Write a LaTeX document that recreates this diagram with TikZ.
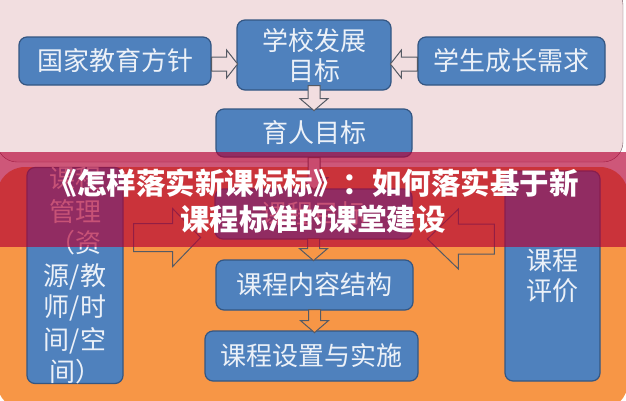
\documentclass[tikz,border=0pt]{standalone}
\usepackage{fontspec}
\newfontfamily\cjk{Noto Sans CJK SC}
\usetikzlibrary{positioning,calc}

\definecolor{pinkbg}{RGB}{242,222,224}
\definecolor{pinkline}{RGB}{120,88,100}
\definecolor{orangebg}{RGB}{247,150,70}
\definecolor{boxblue}{RGB}{79,129,189}
\definecolor{boxline}{RGB}{52,86,130}
\definecolor{boxtext}{RGB}{236,241,248}
\definecolor{arrgray}{RGB}{85,90,100}
\definecolor{bannerred}{RGB}{180,0,52}

\tikzset{
	box/.style={draw=boxline, line width=1.2pt, fill=boxblue, rounded corners=8pt, text=boxtext, align=center, inner sep=0pt, font=\cjk\fontsize{26}{30}\selectfont},
	arrline/.style={draw=arrgray, line width=1pt},
	pics/hollowarr/.style n args={5}{code={
		\draw[arrline, fill=#5] (0,-#2) -- (#1-#4,-#2) -- (#1-#4,-#3) -- (#1,0) -- (#1-#4,#3) -- (#1-#4,#2) -- (0,#2) -- cycle;
	}},
}

\begin{document}
\begin{tikzpicture}[x=1pt,y=-1pt]
				\useasboundingbox (0,0) rectangle (626,400);
				%Panels
				\draw[pinkline, fill=pinkbg, rounded corners=20pt] (-3,-15) rectangle (623,162);
				\fill[orangebg, rounded corners=28pt] (-3,167) rectangle (628,410);

				%Nodes
				\node[box, minimum width=192pt, minimum height=48pt] (gj) at (115,61) {国家教育方针};
				\node[box, minimum width=154pt, minimum height=70pt] (xx) at (314,55) {学校发展\\目标};
				\node[box, minimum width=187pt, minimum height=48pt] (xs) at (511.5,61) {学生成长需求};
				\node[box, minimum width=196pt, minimum height=48pt] (yr) at (314,133) {育人目标};
				\node[box, minimum width=197pt, minimum height=50pt] (kcmb) at (313.5,214) {课程目标};
				\node[box, minimum width=197pt, minimum height=50pt] (nr) at (314.5,285) {课程内容结构};
				\node[box, minimum width=213pt, minimum height=50pt] (sz) at (311.5,356) {课程设置与实施};
				\node[box, minimum width=96pt, minimum height=214pt, font=\cjk\fontsize{26}{32}\selectfont] (gl) at (75,275.5) {课程\\管理\\（资\\源/教\\师/时\\间/空\\间）};
				\node[box, minimum width=95pt, minimum height=210pt] (pj) at (552.5,276) {课程\\评价};

				%Arrows
				\pic at ($(gj.east)+(0,3)$) {hollowarr={26}{7}{14}{11}{pinkbg}};
				\pic[rotate=180] at ($(xs.west)+(0,3)$) {hollowarr={27}{7}{14}{11}{pinkbg}};
				\pic[rotate=-90] at ($(xx.south)+(0,-5)$) {hollowarr={25}{6}{14}{12}{pinkbg}};
				\pic[rotate=-90] at (yr.south) {hollowarr={32}{6}{14}{12}{pinkbg}};
				\pic[rotate=-90] at ($(kcmb.south)+(0,-1)$) {hollowarr={22}{6}{14}{12}{orangebg}};
				\pic[rotate=-90] at ($(nr.south)+(0,-1)$) {hollowarr={23}{6}{14}{12}{orangebg}};
				\pic at ($(gl.east)+(10,-38)$) {hollowarr={67}{14}{29}{28}{orangebg}};
				\pic[rotate=180] at ($(pj.west)+(-10,-37)$) {hollowarr={67}{15}{30}{31}{orangebg}};

				%Banner
				\fill[bannerred, opacity=0.66] (0,152) rectangle (626,247);
				\node[text=white, align=center, font=\cjk\bfseries\fontsize{29.5}{36}\selectfont] (title) at (313,201) {《怎样落实新课标标》：如何落实基于新\\课程标准的课堂建设};
\end{tikzpicture}
\end{document}
